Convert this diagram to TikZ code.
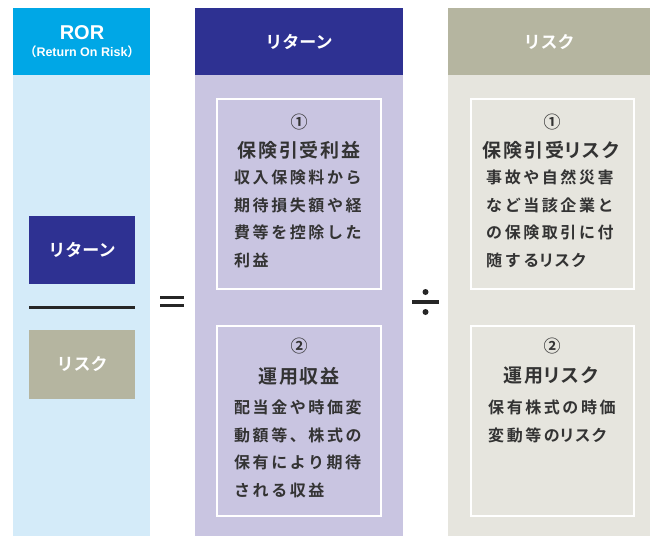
\documentclass[tikz,border=0pt]{standalone}
\usepackage{fontspec}
\setmainfont{Noto Sans CJK JP}[BoldFont={* Bold}]
\newfontfamily\jpb{Noto Sans CJK JP Bold}
\newfontfamily\jpbs{Noto Sans CJK JP Bold}[LetterSpace=16]
\newfontfamily\jpbt{Noto Sans CJK JP Bold}[LetterSpace=10]
\newfontfamily\jpbp{Noto Sans CJK JP Bold}[LetterSpace=10,RawFeature=+palt]
\newfontfamily\jpbsp{Noto Sans CJK JP Bold}[LetterSpace=10,RawFeature=+palt]
\newcommand{\kt}[1]{{\jpbp #1}}
\newcommand{\kb}[1]{{\jpbsp #1}}
\newfontfamily\latb{Liberation Sans Bold}
\definecolor{rorhead}{HTML}{00A7E6}
\definecolor{rorbody}{HTML}{D4EBF9}
\definecolor{rethead}{HTML}{2E3192}
\definecolor{retbody}{HTML}{C9C5E1}
\definecolor{riskhead}{HTML}{B5B5A0}
\definecolor{riskbody}{HTML}{E6E5DE}
\definecolor{txt}{HTML}{333333}
\tikzset{
  headtxt/.style={text=white,font=\jpb\fontsize{17}{17}\selectfont,inner sep=0pt},
  inbox/.style={draw=white,line width=1.6pt},
  numtxt/.style={text=txt,font=\jpb\fontsize{17}{17}\selectfont,inner sep=0pt},
  titletxt/.style={text=txt,font=\jpbt\fontsize{19}{19}\selectfont,inner sep=0pt},
  bodytxt/.style={text=txt,font=\jpbs\fontsize{16}{27.5}\selectfont,inner sep=0pt,align=left,anchor=north west},
}
\begin{document}
\begin{tikzpicture}[x=1pt,y=-1pt]
\useasboundingbox (0,0) rectangle (650,536);
% columns
\fill[rorhead] (13,8) rectangle (150,75);
\fill[rorbody] (13,75) rectangle (150,536);
\fill[rethead] (195,8) rectangle (403,75);
\fill[retbody] (195,75) rectangle (403,536);
\fill[riskhead] (448,8) rectangle (650,75);
\fill[riskbody] (448,75) rectangle (650,536);
% headers
\node[text=white,font=\latb\fontsize{20}{20}\selectfont,inner sep=0pt] (ror) at (82,33) {ROR};
\node[text=white,font=\latb\fontsize{12.5}{12.5}\selectfont,inner sep=0pt] (rorsub) at (82,52) {{\jpb（}Return On Risk{\jpb）}};
\node[headtxt] (rethd) at (299,42) {リターン};
\node[headtxt] (riskhd) at (549,42) {リスク};
% left fraction
\fill[rethead] (29,216) rectangle (135,284);
\node[headtxt] (lret) at (82,250) {リターン};
\fill[black!85] (29,305.5) rectangle (135,308.5);
\fill[riskhead] (29,330) rectangle (135,399);
\node[headtxt] (lrisk) at (82,364) {リスク};
% equals
\fill[black!85] (160,295.5) rectangle (184,298.5);
\fill[black!85] (160,303.5) rectangle (184,306.5);
% division
\fill[black!85] (412,300) rectangle (439,304);
\fill[black!85] (425.5,292) circle (3);
\fill[black!85] (425.5,312) circle (3);
% return boxes
\draw[inbox] (217,99) rectangle (381,289);
\node[numtxt] (rn1) at (299,122) {①};
\node[titletxt] (rt1) at (299,150) {保険引受利益};
\node[bodytxt] (rb1) at (234,170) {収入保険料から\\期待損失額や経\\費等を控除した\\利益};
\draw[inbox] (217,326) rectangle (381,516);
\node[numtxt] (rn2) at (299,346) {②};
\node[titletxt] (rt2) at (299,376) {運用収益};
\node[bodytxt] (rb2) at (234,400) {配当金や時価変\\動額等、株式の\\保有により期待\\される収益};
% risk boxes
\draw[inbox] (471,99) rectangle (634,289);
\node[numtxt] (kn1) at (552,122) {①};
\node[titletxt] (kt1) at (551,150) {保険引受\kt{リスク}};
\node[bodytxt] (kb1) at (486,170) {事故や自然災害\\など当該企業と\\の保険取引に付\\随する\kb{リスク}};
\draw[inbox] (471,326) rectangle (634,516);
\node[numtxt] (kn2) at (552,346) {②};
\node[titletxt] (kt2) at (551,376) {運用\kt{リスク}};
\node[bodytxt] (kb2) at (488,400) {保有株式の時価\\変動等の\kb{リスク}};
\end{tikzpicture}
\end{document}
